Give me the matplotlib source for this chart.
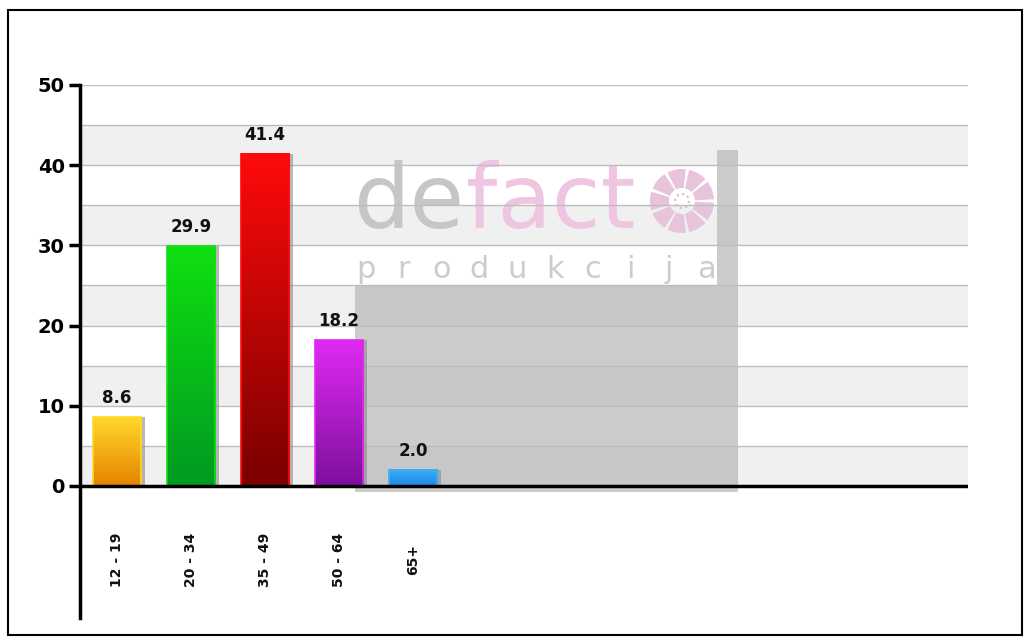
import numpy as np
import matplotlib
matplotlib.use("Agg")
import matplotlib.pyplot as plt
from matplotlib.colors import LinearSegmentedColormap
from matplotlib.patches import Rectangle, Circle, Wedge
from matplotlib.transforms import Affine2D

categories = ["12 - 19", "20 - 34", "35 - 49", "50 - 64", "65+"]
values = [8.6, 29.9, 41.4, 18.2, 2.0]
top_colors = ["#ffd82a", "#10e010", "#ff0a0a", "#e02af2", "#3ab0f5"]
bottom_colors = ["#e58400", "#009a22", "#7a0000", "#7d0f9e", "#1f86e6"]
y_ticks = [0, 10, 20, 30, 40, 50]

W, H = 1030, 643
fig = plt.figure(figsize=(W / 100, H / 100), dpi=100)


def fx(px):
    return px / W


def fy(py):
    return 1 - py / H


ax = fig.add_axes([fx(80), fy(618), fx(968) - fx(80), fy(85) - fy(618)])
ax.set_xlim(-0.5, 11.5)
ax.set_ylim(-16.46, 50)

# alternating bands + gridlines
for lo in range(0, 50, 10):
    ax.axhspan(lo, lo + 5, color="#f0f0f0", zorder=0, lw=0)
for g in range(5, 55, 5):
    ax.axhline(g, color="#bdbdbd", lw=1, zorder=1)

# watermark logo, placed in image pixels
px = Affine2D().scale(1 / W, -1 / H).translate(0, 1) + fig.transFigure
wm_col = "#b4b4b4"
ax.add_patch(Rectangle((355, 285), 383, 207, color=wm_col, alpha=0.68, lw=0,
                       transform=px, clip_on=False, zorder=0.5))
ax.add_patch(Rectangle((717, 150), 21, 135, color=wm_col, alpha=0.68, lw=0,
                       transform=px, clip_on=False, zorder=0.5))
ax.text(353, 228, "de", fontsize=64, color="#c6c6c6", family="DejaVu Sans",
        va="baseline", ha="left", transform=px, zorder=0.5)
ax.text(466, 228, "fact", fontsize=64, color="#eec6e2", family="DejaVu Sans",
        va="baseline", ha="left", transform=px, zorder=0.5)
for k in range(9):
    a = k * 40
    ax.add_patch(Wedge((682, 201), 32, a + 3, a + 37, width=19,
                       color="#e8c4dc", lw=0, transform=px, zorder=0.5))
ax.add_patch(Circle((682, 201), 7, fill=False, ec="#e0b8d2", lw=1.5, ls=":",
                    transform=px, zorder=0.5))
for i, ch in enumerate("produkcija"):
    ax.text(366 + i * 37.8, 278, ch, fontsize=22, color="#cccccc",
            family="DejaVu Sans", va="baseline", ha="center",
            transform=px, zorder=0.5)

# bars with gradient
bw = 0.65
xs = np.arange(len(categories))
for x, v, c1, c2 in zip(xs, values, top_colors, bottom_colors):
    ax.add_patch(Rectangle((x - bw / 2 + 0.06, 0), bw, v, color="#8a8a8a",
                           alpha=0.6, lw=0, zorder=2))
    cmap = LinearSegmentedColormap.from_list("g", [c2, c1])
    grad = np.linspace(0, 1, 100).reshape(-1, 1)
    ax.imshow(grad, cmap=cmap, origin="lower", aspect="auto",
              extent=[x - bw / 2, x + bw / 2, 0, v], zorder=3)
    ax.add_patch(Rectangle((x - bw / 2, 0), bw, v, fill=False, ec=c1,
                           lw=1.2, zorder=4))
    ax.annotate(f"{v:.1f}", (x, v), xytext=(0, 7), textcoords="offset points",
                ha="center", va="bottom", fontsize=12, fontweight="bold",
                family="DejaVu Sans", color="#111111", zorder=5)
    ax.text(x, -9.2, categories[x], rotation=90, ha="center", va="center",
            fontsize=10, fontweight="bold", family="DejaVu Sans",
            color="#111111")

ax.set_xlim(-0.5, 11.5)
ax.set_ylim(-16.46, 50)
ax.axhline(0, color="black", lw=2.5, zorder=6)

for s in ["top", "right", "bottom"]:
    ax.spines[s].set_visible(False)
ax.spines["left"].set_linewidth(2.5)
ax.spines["left"].set_zorder(7)
ax.set_xticks([])
ax.set_yticks(y_ticks)
ax.set_yticklabels([str(t) for t in y_ticks], fontsize=14, fontweight="bold",
                   family="DejaVu Sans")
ax.tick_params(axis="y", length=8, width=2.5, pad=3)

# outer border
fig.add_artist(Rectangle((fx(8), fy(635)), fx(1022) - fx(8), fy(10) - fy(635),
                         transform=fig.transFigure, fill=False, ec="black", lw=1.5))

fig.savefig("out.png", dpi=100)
